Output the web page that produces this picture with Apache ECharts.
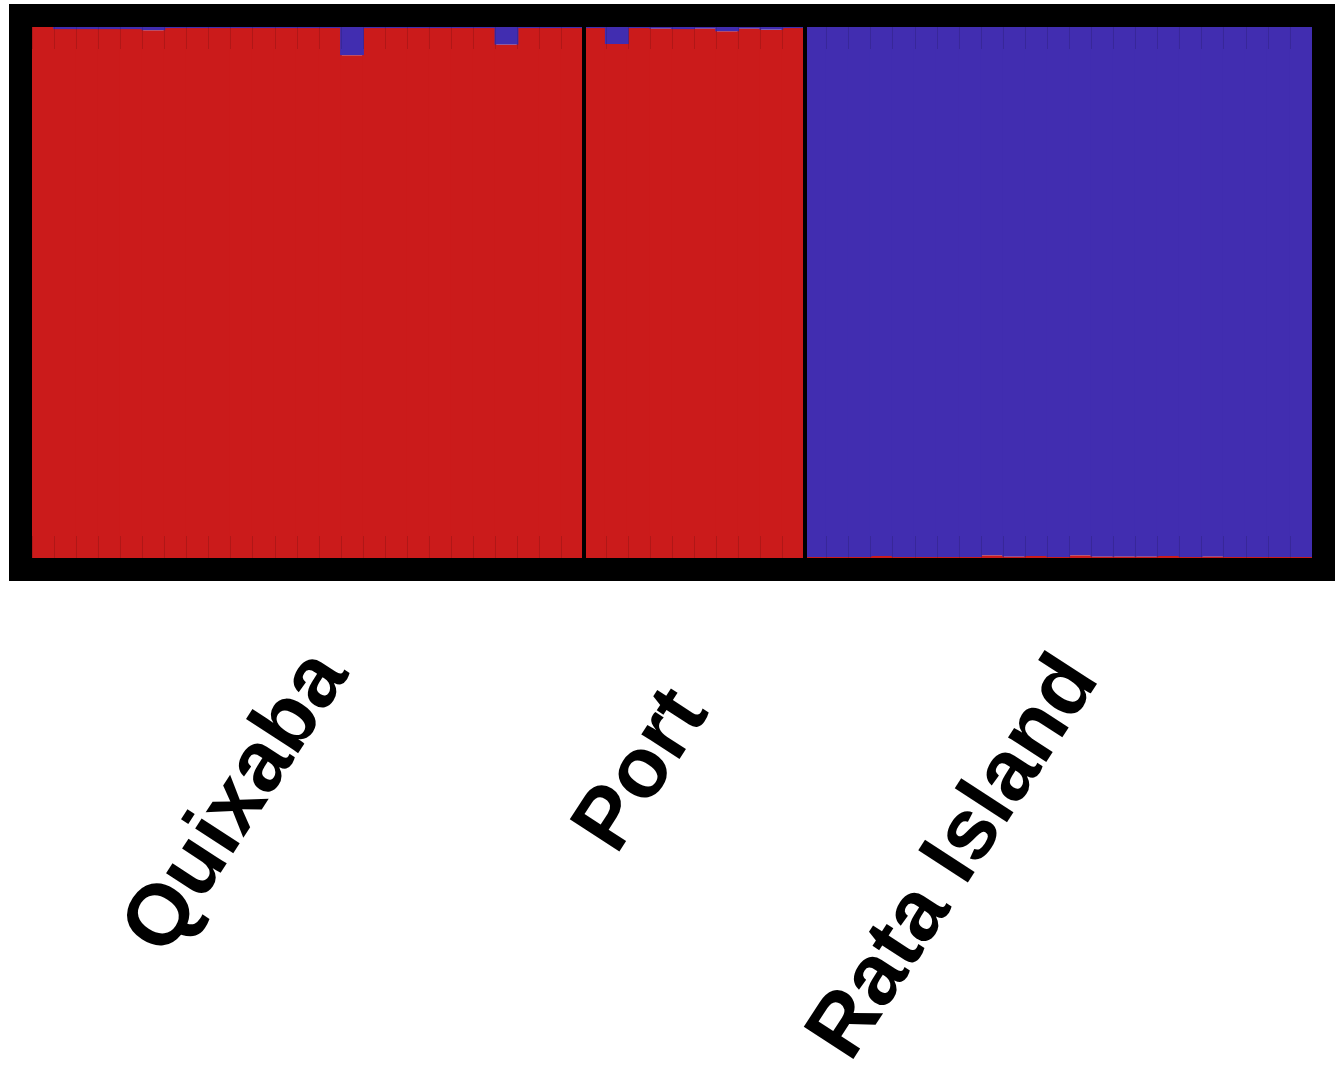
<!DOCTYPE html>
<html>
<head>
<meta charset="utf-8">
<script src="https://cdn.jsdelivr.net/npm/echarts@6/dist/echarts.min.js"></script>
<style>
  html, body { margin: 0; padding: 0; background: #fff; }
  #chart { width: 1341px; height: 1071px; }
</style>
</head>
<body>
<div id="chart"></div>
<script>
// populations and how many individuals each one has
const populations = ['Quixaba', 'Port', 'Rata Island'];
const popSizes = [25, 10, 23];

// membership per individual, cluster 1 (red) and cluster 2 (blue)
const cluster1 = [
  // Quixaba
  1.000, 0.996, 0.996, 0.996, 0.996, 0.994, 0.998, 0.998, 0.998, 0.998,
  0.998, 0.998, 0.998, 0.998, 0.947, 0.998, 0.998, 0.998, 0.998, 0.998,
  0.998, 0.967, 0.998, 0.998, 0.998,
  // Port
  0.998, 0.968, 0.998, 0.997, 0.996, 0.997, 0.992, 0.997, 0.995, 0.998,
  // Rata Island
  0.002, 0.002, 0.002, 0.004, 0.002, 0.002, 0.002, 0.002, 0.005, 0.003,
  0.004, 0.002, 0.005, 0.003, 0.003, 0.003, 0.004, 0.002, 0.003, 0.002,
  0.002, 0.002, 0.002
];
const cluster2 = [
  // Quixaba
  0.000, 0.004, 0.004, 0.004, 0.004, 0.006, 0.002, 0.002, 0.002, 0.002,
  0.002, 0.002, 0.002, 0.002, 0.053, 0.002, 0.002, 0.002, 0.002, 0.002,
  0.002, 0.033, 0.002, 0.002, 0.002,
  // Port
  0.002, 0.032, 0.002, 0.003, 0.004, 0.003, 0.008, 0.003, 0.005, 0.002,
  // Rata Island
  0.998, 0.998, 0.998, 0.996, 0.998, 0.998, 0.998, 0.998, 0.995, 0.997,
  0.996, 0.998, 0.995, 0.997, 0.997, 0.997, 0.996, 0.998, 0.997, 0.998,
  0.998, 0.998, 0.998
];

const RED = '#cb1b1b';
const BLUE = '#412db0';

const chart = echarts.init(document.getElementById('chart'));

// plot area in pixels
const G = { left: 32, top: 27, right: 29, bottom: 513 };
const W = 1341, H = 1071;
const FRAME = 23;

const individuals = cluster1.map((v, i) => 'ind' + (i + 1));
const total = individuals.length;

// group boundaries and centres on the index scale
const bounds = [];
const centres = [];
let acc = 0;
popSizes.forEach(n => {
  centres.push(acc + n / 2);
  acc += n;
  bounds.push(acc);
});
bounds.pop();

const tickStyle = { color: 'rgba(0,0,0,0.13)', width: 1 };

chart.setOption({
  animation: false,
  grid: { left: G.left, top: G.top, right: G.right, bottom: G.bottom },
  xAxis: [
    {
      type: 'category',
      data: individuals,
      boundaryGap: true,
      axisLine: { show: false },
      axisLabel: { show: false, interval: 0 },
      axisTick: { show: true, inside: true, interval: 0, length: 22, lineStyle: tickStyle },
      splitLine: { show: false },
      z: 3
    },
    {
      type: 'category',
      data: individuals,
      boundaryGap: true,
      position: 'top',
      axisLine: { show: false },
      axisLabel: { show: false, interval: 0 },
      axisTick: { show: true, inside: true, interval: 0, length: 22, lineStyle: tickStyle },
      splitLine: { show: false },
      z: 3
    },
    {
      // index scale used for the separators and label anchors
      type: 'value',
      min: 0,
      max: total,
      show: false
    }
  ],
  yAxis: {
    type: 'value',
    min: 0,
    max: 1,
    show: false
  },
  series: [
    {
      name: 'Cluster 1',
      type: 'bar',
      stack: 'q',
      data: cluster1,
      // slight overlap so neighbouring bars leave no anti-aliasing seam
      barCategoryGap: '-8%',
      itemStyle: { color: RED },
      z: 1
    },
    {
      name: 'Cluster 2',
      type: 'bar',
      stack: 'q',
      data: cluster2,
      barCategoryGap: '-8%',
      itemStyle: { color: BLUE },
      z: 1
    },
    {
      // empty series only to carry the population separators
      type: 'line',
      xAxisIndex: 2,
      data: [],
      markLine: {
        silent: true,
        symbol: 'none',
        label: { show: false },
        lineStyle: { color: '#000', width: 4, type: 'solid' },
        data: bounds.map(b => ({ xAxis: b }))
      },
      z: 5
    }
  ]
});

// thick frame and rotated population names
const innerW = W - G.left - G.right;
const innerH = H - G.top - G.bottom;
const labelFont = 'bold 86px "Liberation Sans", Arial, sans-serif';
const labelOffsets = [[22, 661], [-4, 699], [22, 666]];

const graphics = [{
  type: 'rect',
  z: 100,
  shape: {
    x: G.left - FRAME / 2,
    y: G.top - FRAME / 2,
    width: innerW + FRAME,
    height: innerH + FRAME
  },
  style: { fill: 'none', stroke: '#000', lineWidth: FRAME }
}];

populations.forEach((name, i) => {
  const cx = chart.convertToPixel({ xAxisIndex: 2 }, centres[i]);
  graphics.push({
    type: 'text',
    z: 100,
    x: cx + labelOffsets[i][0],
    y: labelOffsets[i][1],
    rotation: 57 * Math.PI / 180,
    style: {
      text: name,
      font: labelFont,
      fill: '#000',
      align: 'right',
      verticalAlign: 'middle'
    }
  });
});

chart.setOption({ graphic: graphics });
</script>
</body>
</html>
